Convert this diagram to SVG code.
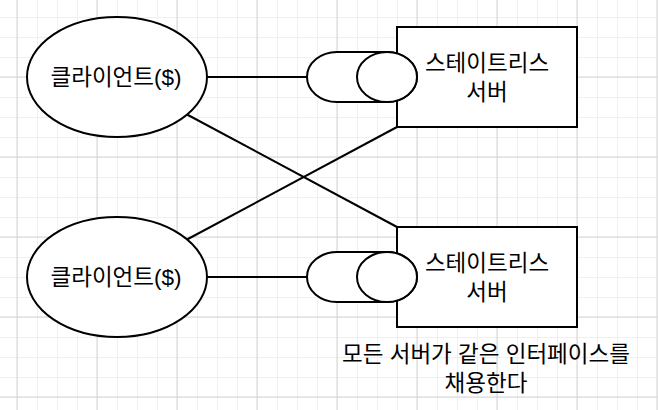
<svg xmlns="http://www.w3.org/2000/svg" width="658" height="410" viewBox="0 0 658 410">
<defs>
<pattern id="minor" x="17" y="-3" width="20" height="20" patternUnits="userSpaceOnUse">
<path d="M0.5,0 V20 M0,0.5 H20" fill="none" stroke="#f0f0f0" stroke-width="1"/>
</pattern>
<pattern id="major" x="16.5" y="-3.5" width="80" height="80" patternUnits="userSpaceOnUse">
<path d="M0.5,0 V80 M0,0.5 H80" fill="none" stroke="#d4d4d4" stroke-width="1"/>
</pattern>
</defs>
<style>
.shape{fill:#fff;stroke:#000;stroke-width:2}
.edge{fill:none;stroke:#000;stroke-width:2}
text{font-family:"Liberation Sans","Noto Sans CJK KR",sans-serif;font-size:22.5px;fill:#000;text-anchor:middle}
</style>
<rect width="658" height="410" fill="#fff"/>
<rect width="658" height="410" fill="url(#minor)"/>
<rect width="658" height="410" fill="url(#major)"/>
<g id="connectors">
<line class="edge" x1="207" y1="77" x2="307" y2="77"/>
<line class="edge" x1="207" y1="277" x2="307" y2="277"/>
<line class="edge" x1="187" y1="114.5" x2="397" y2="227"/>
<line class="edge" x1="187" y1="239.5" x2="397" y2="127"/>
</g>
<g id="client1">
<ellipse class="shape" cx="117" cy="77" rx="90" ry="60"/>
<text x="116" y="85">클라이언트($)</text>
</g>
<g id="client2">
<ellipse class="shape" cx="117" cy="277" rx="90" ry="60"/>
<text x="116" y="285">클라이언트($)</text>
</g>
<g id="server1">
<rect class="shape" x="397" y="27" width="180" height="100"/>
<text x="487" y="71">스테이트리스</text>
<text x="487" y="100">서버</text>
</g>
<g id="iface1">
<path class="shape" d="M337,52 H387 A30,25 0 0 1 387,102 H337 A30,25 0 0 1 337,52 Z"/>
<ellipse class="shape" cx="387" cy="77" rx="30" ry="25"/>
</g>
<g id="server2">
<rect class="shape" x="397" y="227" width="180" height="100"/>
<text x="487" y="271">스테이트리스</text>
<text x="487" y="300">서버</text>
</g>
<g id="iface2">
<path class="shape" d="M337,252 H387 A30,25 0 0 1 387,302 H337 A30,25 0 0 1 337,252 Z"/>
<ellipse class="shape" cx="387" cy="277" rx="30" ry="25"/>
</g>
<g id="note">
<text x="486" y="362">모든 서버가 같은 인터페이스를</text>
<text x="486" y="391">채용한다</text>
</g>
</svg>
